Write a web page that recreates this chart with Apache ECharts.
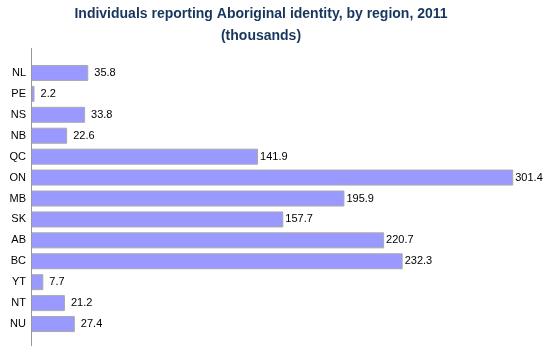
<!DOCTYPE html>
<html><head><meta charset="utf-8">
<script src="https://cdn.jsdelivr.net/npm/echarts@6/dist/echarts.min.js"></script>
<style>html,body{margin:0;padding:0;background:#fff}#c{width:550px;height:350px}</style>
</head><body><div id="c"></div>
<script>
const categories = ['NL','PE','NS','NB','QC','ON','MB','SK','AB','BC','YT','NT','NU'];
const values = [35.8, 2.2, 33.8, 22.6, 141.9, 301.4, 195.9, 157.7, 220.7, 232.3, 7.7, 21.2, 27.4];
const titleLines = ['Individuals reporting Aboriginal identity, by region, 2011', '(thousands)'];

const chart = echarts.init(document.getElementById('c'), null, {renderer: 'canvas'});
chart.setOption({
  animation: false,
  backgroundColor: '#fff',
  title: {
    text: titleLines.join('\n'),
    left: 261, top: 3, textAlign: 'center', padding: 0,
    textStyle: {fontFamily: 'Liberation Sans, Arial, sans-serif', fontSize: 14, fontWeight: 'bold', color: '#17365D', lineHeight: 22}
  },
  grid: {left: 31, right: 7, top: 62.5, bottom: 15.5, containLabel: false},
  xAxis: {type: 'value', min: 0, max: 320, show: false},
  yAxis: {
    type: 'category', data: categories, inverse: true,
    axisLine: {show: false}, axisTick: {show: false},
    axisLabel: {margin: 5, color: '#000', fontFamily: 'Liberation Sans, Arial, sans-serif', fontSize: 11}
  },
  graphic: [{
    type: 'line', shape: {x1: 31.5, y1: 48, x2: 31.5, y2: 346},
    style: {stroke: '#999', lineWidth: 1}, z: 10
  }],
  series: [{
    type: 'bar', barWidth: 16,
    data: values.map(v => ({value: v, label: {distance: v < 100 ? 6 : 2}})),
    itemStyle: {color: '#9999FF', borderColor: '#AAAAAA', borderWidth: 1},
    label: {show: true, position: 'right', color: '#000', fontFamily: 'Liberation Sans, Arial, sans-serif', fontSize: 11,
      formatter: p => p.value.toFixed(1)}
  }]
});
</script></body></html>
